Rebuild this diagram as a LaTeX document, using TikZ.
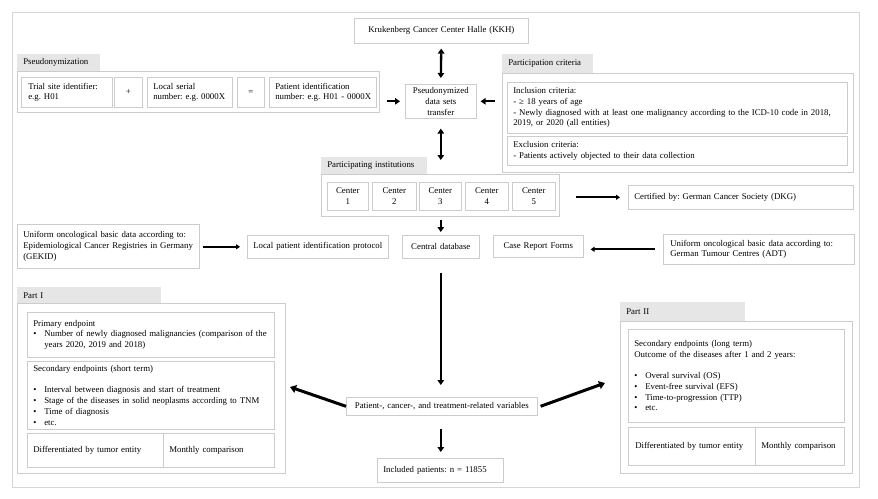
\documentclass[tikz,border=0pt]{standalone}
\usepackage{fontspec}
\setmainfont{Liberation Serif}
\usetikzlibrary{arrows.meta,calc}
\definecolor{boxgray}{HTML}{CCCCCC}
\definecolor{tabgray}{HTML}{E6E6E6}
\definecolor{framegray}{HTML}{D6D6D6}
\newcommand\fs{\fontsize{8.8}{10.7}\selectfont\frenchspacing}
\newcommand\mybul{\makebox[11pt][l]{\textbullet}}
\newcommand\myind{\hspace*{11pt}}
\newcommand\BX[7][]{%
  \pgfmathsetmacro\bw{#5-#3}\pgfmathsetmacro\bh{#6-#4}\pgfmathsetmacro\tw{#5-#3-12}%
  \node[bx, minimum width=\bw pt, minimum height=\bh pt, text width=\tw pt, anchor=north west, #1] (#2) at (#3,#4) {#7};}
\newcommand\BXC[6]{%
  \pgfmathsetmacro\bw{#4-#2}\pgfmathsetmacro\bh{#5-#3}\pgfmathsetmacro\tw{#4-#2-4}%
  \node[bx, align=center, inner xsep=2pt, minimum width=\bw pt, minimum height=\bh pt, text width=\tw pt, anchor=north west] (#1) at (#2,#3) {#6};}
\tikzset{
  bx/.style={draw=boxgray, line width=0.6pt, fill=white, inner xsep=6pt, inner ysep=0pt, font=\fs, align=left},
  tab/.style={draw=none, fill=tabgray},
  fat/.style={line width=2.3pt, -{Triangle[length=5pt,width=6.5pt]}},
  dfat/.style={line width=2.3pt, {Triangle[length=5pt,width=6.5pt]}-{Triangle[length=5pt,width=6.5pt]}},
  slim/.style={line width=1.8pt, -{Triangle[length=4pt,width=5pt]}},
  heavy/.style={line width=3pt, -{Triangle[length=6pt,width=8pt]}},
}
\begin{document}
\begin{tikzpicture}[x=1pt,y=-1pt]
\useasboundingbox (0,0) rectangle (878,498);
\fill[white] (0,0) rectangle (878,498);
\draw[framegray, line width=0.8pt] (12,12) rectangle (859,487);

% top
\BXC{kkh}{354}{18}{528}{43}{Krukenberg Cancer Center Halle (KKH)}

% Pseudonymization
\BX[tab]{pseutab}{17}{54}{100}{71}{Pseudonymization}
\BX{pseugrp}{17}{71}{379}{112}{}
\BX[inner xsep=7pt]{trial}{21}{77}{110}{107}{Trial site identifier:\\e.g. H01}
\BXC{plus}{114}{77}{142}{107}{+}
\BX{serial}{147}{77}{232}{107}{Local serial\\\mbox{number: e.g. 0000X}}
\BXC{equal}{237}{77}{264}{107}{=}
\BX{pid}{269}{77}{376}{107}{\mbox{Patient identification}\\\mbox{number: e.g. H01 - 0000X}}

\BXC{pseudo}{405}{84}{476}{118}{Pseudonymized\\data sets\\transfer}

% Participation criteria
\BX[tab]{parttab}{502}{54}{593}{73}{Participation criteria}
\BX{partgrp}{502}{73}{853}{172}{}
\BX{incl}{507}{82}{847}{133}{Inclusion criteria:\\- ≥ 18 years of age\\\mbox{- Newly diagnosed with at least one malignancy according to the ICD-10 code in 2018,}\\2019, or 2020 (all entities)}
\BX{excl}{507}{136}{847}{165}{Exclusion criteria:\\- Patients actively objected to their data collection}

% Participating institutions
\BX[tab]{insttab}{321}{157}{427}{174}{Participating institutions}
\BX{instgrp}{321}{174}{559}{216}{}
\BXC{c1}{327}{182}{368}{210}{Center\\1}
\BXC{c2}{372}{182}{416}{210}{Center\\2}
\BXC{c3}{419}{182}{461}{210}{Center\\3}
\BXC{c4}{465}{182}{508}{210}{Center\\4}
\BXC{c5}{512}{182}{555}{210}{Center\\5}
\BX{cert}{628}{185}{853}{209}{Certified by: German Cancer Society (DKG)}

% data row
\BX{gekid}{17}{224}{199}{268}{\mbox{Uniform oncological basic data according to:}\\\mbox{Epidemiological Cancer Registries in Germany}\\(GEKID)}
\BXC{local}{247}{235}{388}{258}{Local patient identification protocol}
\BXC{central}{402}{235}{479}{258}{Central database}
\BXC{crf}{493}{235}{583}{257}{Case Report Forms}
\BX[inner xsep=7pt]{adt}{663}{234}{852}{264}{\mbox{Uniform oncological basic data according to:}\\German Tumour Centres (ADT)}

% variables
\BXC{pat}{346}{397}{537}{415}{Patient-, cancer-, and treatment-related variables}
\BX{incp}{377}{458}{503}{482}{\mbox{Included patients: n = 11855}}

% Part I
\BX[tab]{p1tab}{17}{287}{161}{303}{Part I}
\BX{p1grp}{17}{303}{285}{473}{}
\BX{prim}{27}{312}{274}{357}{Primary endpoint\\\mbox{\mybul Number of newly diagnosed malignancies (comparison of the}\\\myind years 2020, 2019 and 2018)}
\BX{sec1}{27}{361}{274}{429}{Secondary endpoints (short term)\\[10.7pt]\mbox{\mybul Interval between diagnosis and start of treatment}\\\mbox{\mybul Stage of the diseases in solid neoplasms according to TNM}\\\mybul Time of diagnosis\\\mybul etc.}
\BX{diff1}{27}{433}{163}{467}{\mbox{Differentiated by tumor entity}}
\BX{mon1}{163}{433}{274}{467}{Monthly comparison}

% Part II
\BX[tab]{p2tab}{620}{302}{745}{321}{Part II}
\BX{p2grp}{620}{321}{852}{473}{}
\BX{sec2}{628}{329}{844}{422}{Secondary endpoints (long term)\\\mbox{Outcome of the diseases after 1 and 2 years:}\\[10.7pt]\mybul Overal survival (OS)\\\mybul Event-free survival (EFS)\\\mybul Time-to-progression (TTP)\\\mybul etc.}
\BX[inner xsep=7pt]{diff2}{628}{427}{755}{465}{\mbox{Differentiated by tumor entity}}
\BX{mon2}{755}{427}{844}{465}{\mbox{Monthly comparison}}

\coordinate (p1tip) at (290,387);
\coordinate (p2tip) at (605,383);

% connectors
\draw[dfat, shorten <=5pt, shorten >=6pt] (kkh.south) -- (pseudo.north);
\draw[fat, shorten <=7pt, shorten >=5pt] (pseugrp.east |- pseudo.west) -- (pseudo.west);
\draw[fat, shorten <=7pt, shorten >=4pt] (partgrp.west |- pseudo.east) -- (pseudo.east);
\draw[dfat, shorten <=10pt, shorten >=14pt] (pseudo.south) -- (pseudo.south |- instgrp.north);
\draw[slim, shorten <=16pt, shorten >=8pt] (instgrp.east |- cert.west) -- (cert.west);
\draw[fat, shorten <=3pt, shorten >=3pt] (pseudo.south |- instgrp.south) -- (pseudo.south |- central.north);
\draw[slim, shorten <=3pt, shorten >=7pt] (gekid.east |- local.west) -- (local.west);
\draw[slim, shorten <=8pt, shorten >=7pt] (adt.west) -- (crf.east |- adt.west);
\draw[fat, shorten <=14pt, shorten >=12pt] (pseudo.south |- central.south) -- (pseudo.south |- pat.north);
\draw[fat, shorten <=13pt, shorten >=6pt] (pseudo.south |- pat.south) -- (pseudo.south |- incp.north);
\draw[heavy] (pat.west) -- (p1tip);
\draw[heavy] ([xshift=3pt]pat.east) -- (p2tip);
\end{tikzpicture}
\end{document}
